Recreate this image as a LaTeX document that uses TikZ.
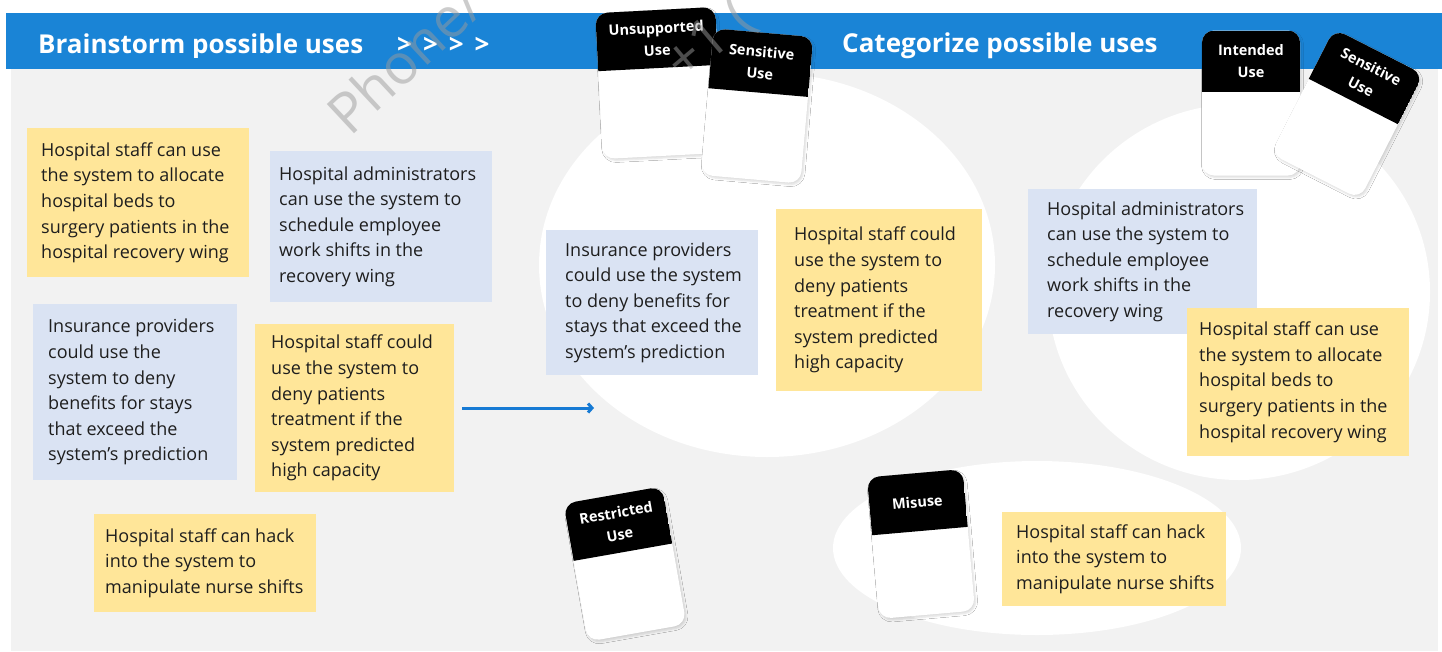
\documentclass[tikz,border=0pt]{standalone}
\usepackage{fontspec}
\setmainfont{Open Sans}
\usetikzlibrary{arrows.meta,shadows.blur,shapes.geometric}
\definecolor{hdrblue}{RGB}{26,132,214}
\definecolor{bggray}{RGB}{242,242,242}
\definecolor{noteyellow}{RGB}{255,230,153}
\definecolor{noteblue}{RGB}{218,227,243}
\definecolor{arrowblue}{RGB}{22,122,212}
\definecolor{txt}{RGB}{30,30,30}
\definecolor{wmgray}{RGB}{155,155,155}
\tikzset{
  ybox/.style={fill=noteyellow, draw=none, anchor=north west, inner sep=0pt},
  bbox/.style={fill=noteblue, draw=none, anchor=north west, inner sep=0pt},
  notetext/.style={anchor=west, align=left, inner sep=0pt, text=txt, font=\fontsize{18}{25.6}\selectfont},
  zone/.style={ellipse, fill=white, draw=none, inner sep=0pt},
  cardtext/.style={text=white, align=center, inner sep=0pt, transform shape, font=\bfseries\fontsize{14.5}{22}\selectfont},
  hdr/.style={text=white, inner sep=0pt, font=\bfseries\fontsize{26}{30}\selectfont},
  flow/.style={draw=arrowblue, line width=3pt, -{Straight Barb[length=4pt,width=9pt]}},
  wm/.style={text=wmgray, opacity=0.5, inner sep=0pt, font=\fontsize{56}{60}\selectfont},
  cardshadow/.style={blur shadow={shadow xshift=1.5pt, shadow yshift=-2pt, shadow blur radius=2pt, shadow opacity=14}},
}
\newcommand\stickynote[8]{%
  \node[#2, minimum width=#5pt, minimum height=#6pt] (#1box) at (#3,#4) {};
  \node[notetext] (#1) at ([xshift=#7pt]#1box.west) {#8};}
\newcommand\usecard[8]{%
  \begin{scope}[shift={(#2,#3)}, rotate=#4]
    \path[fill=white, rounded corners=12pt, cardshadow] (-#5/2,-#6/2) rectangle (#5/2,#6/2);
    \begin{scope}
      \clip[rounded corners=12pt] (-#5/2,-#6/2) rectangle (#5/2,#6/2);
      \fill[black] (-#5/2,-#6/2) rectangle (#5/2,-#6/2+#7);
    \end{scope}
    \node[cardtext] (#1) at (0,-#6/2+#7/2) {#8};
  \end{scope}}
\begin{document}
\begin{tikzpicture}[x=1pt,y=-1pt]
\useasboundingbox (0,0) rectangle (1442,651);
\fill[white] (0,0) rectangle (1442,651);
\fill[bggray] (11,69) rectangle (1438,651);
\fill[hdrblue] (6,13) rectangle (1442,69);

% header titles
\begin{scope}
  \clip (0,0) rectangle (600,57.5);
  \node[hdr, anchor=base west] (title1) at (38,53) {Brainstorm possible uses};
\end{scope}
\node[hdr, anchor=base west] (chev) at (397,53) {>\hspace{11pt}>\hspace{11pt}>\hspace{11pt}>};
\node[hdr, anchor=base west] (title2) at (842,52) {Categorize possible uses};

% zones
\node[zone, minimum width=456pt, minimum height=384pt] (zone1) at (767,265) {};
\node[zone, minimum width=382pt, minimum height=376pt] (zone2) at (1239,292) {};
\node[zone, minimum width=408pt, minimum height=174pt] (zone3) at (1037,548) {};

% left notes
\stickynote{l1}{ybox}{27}{128}{222}{149}{14}{Hospital staff can use\\the system to allocate\\hospital beds to\\surgery patients in the\\hospital recovery wing}
\stickynote{l2}{bbox}{270}{151}{222}{151}{9}{Hospital administrators\\can use the system to\\schedule employee\\work shifts in the\\recovery wing}
\stickynote{l3}{bbox}{33}{304}{204}{176}{15}{Insurance providers\\could use the\\system to deny\\benefits for stays\\that exceed the\\system’s prediction}
\stickynote{l4}{ybox}{255}{324}{199}{168}{16}{Hospital staff could\\use the system to\\deny patients\\treatment if the\\system predicted\\high capacity}
\stickynote{l5}{ybox}{94}{514}{222}{98}{11}{Hospital staff can hack\\into the system to\\manipulate nurse shifts}

% arrow
\coordinate (a1) at (462,408);
\coordinate (a2) at (594,408);
\draw[flow] (a1) -- (a2);

% middle notes
\stickynote{m1}{bbox}{546}{230}{212}{145}{19}{Insurance providers\\could use the system\\to deny benefits for\\stays that exceed the\\system’s prediction}
\stickynote{m2}{ybox}{776}{209}{206}{182}{18}{Hospital staff could\\use the system to\\deny patients\\treatment if the\\system predicted\\high capacity}

% right notes
\stickynote{r1}{bbox}{1028}{189}{229}{145}{19}{Hospital administrators\\can use the system to\\schedule employee\\work shifts in the\\recovery wing}
\stickynote{r2}{ybox}{1187}{308}{222}{148}{12}{Hospital staff can use\\the system to allocate\\hospital beds to\\surgery patients in the\\hospital recovery wing}

% bottom note
\stickynote{b1}{ybox}{1002}{512}{224}{94}{14}{Hospital staff can hack\\into the system to\\manipulate nurse shifts}

% cards
\usecard{cunsup}{659}{83}{3}{120}{146}{58}{Unsupported\\Use}
\usecard{csens}{757}{106}{-5}{100}{147}{60}{Sensitive\\Use}
\usecard{cint}{1251}{103}{0}{98}{145}{61}{Intended\\Use}
\usecard{csens2}{1347}{114}{-27}{100}{140}{56}{Sensitive\\Use}
\usecard{crestr}{625}{564}{10}{100}{140}{58}{Restricted\\Use}
\usecard{cmis}{921}{544}{5}{96}{142}{58}{Misuse}

% watermark
\node[wm, rotate=43, anchor=base west] (wm1) at (350,138) {Phone/};
\node[wm, rotate=40, anchor=west] (wm2) at (674,72) {+1 (};
\end{tikzpicture}
\end{document}
